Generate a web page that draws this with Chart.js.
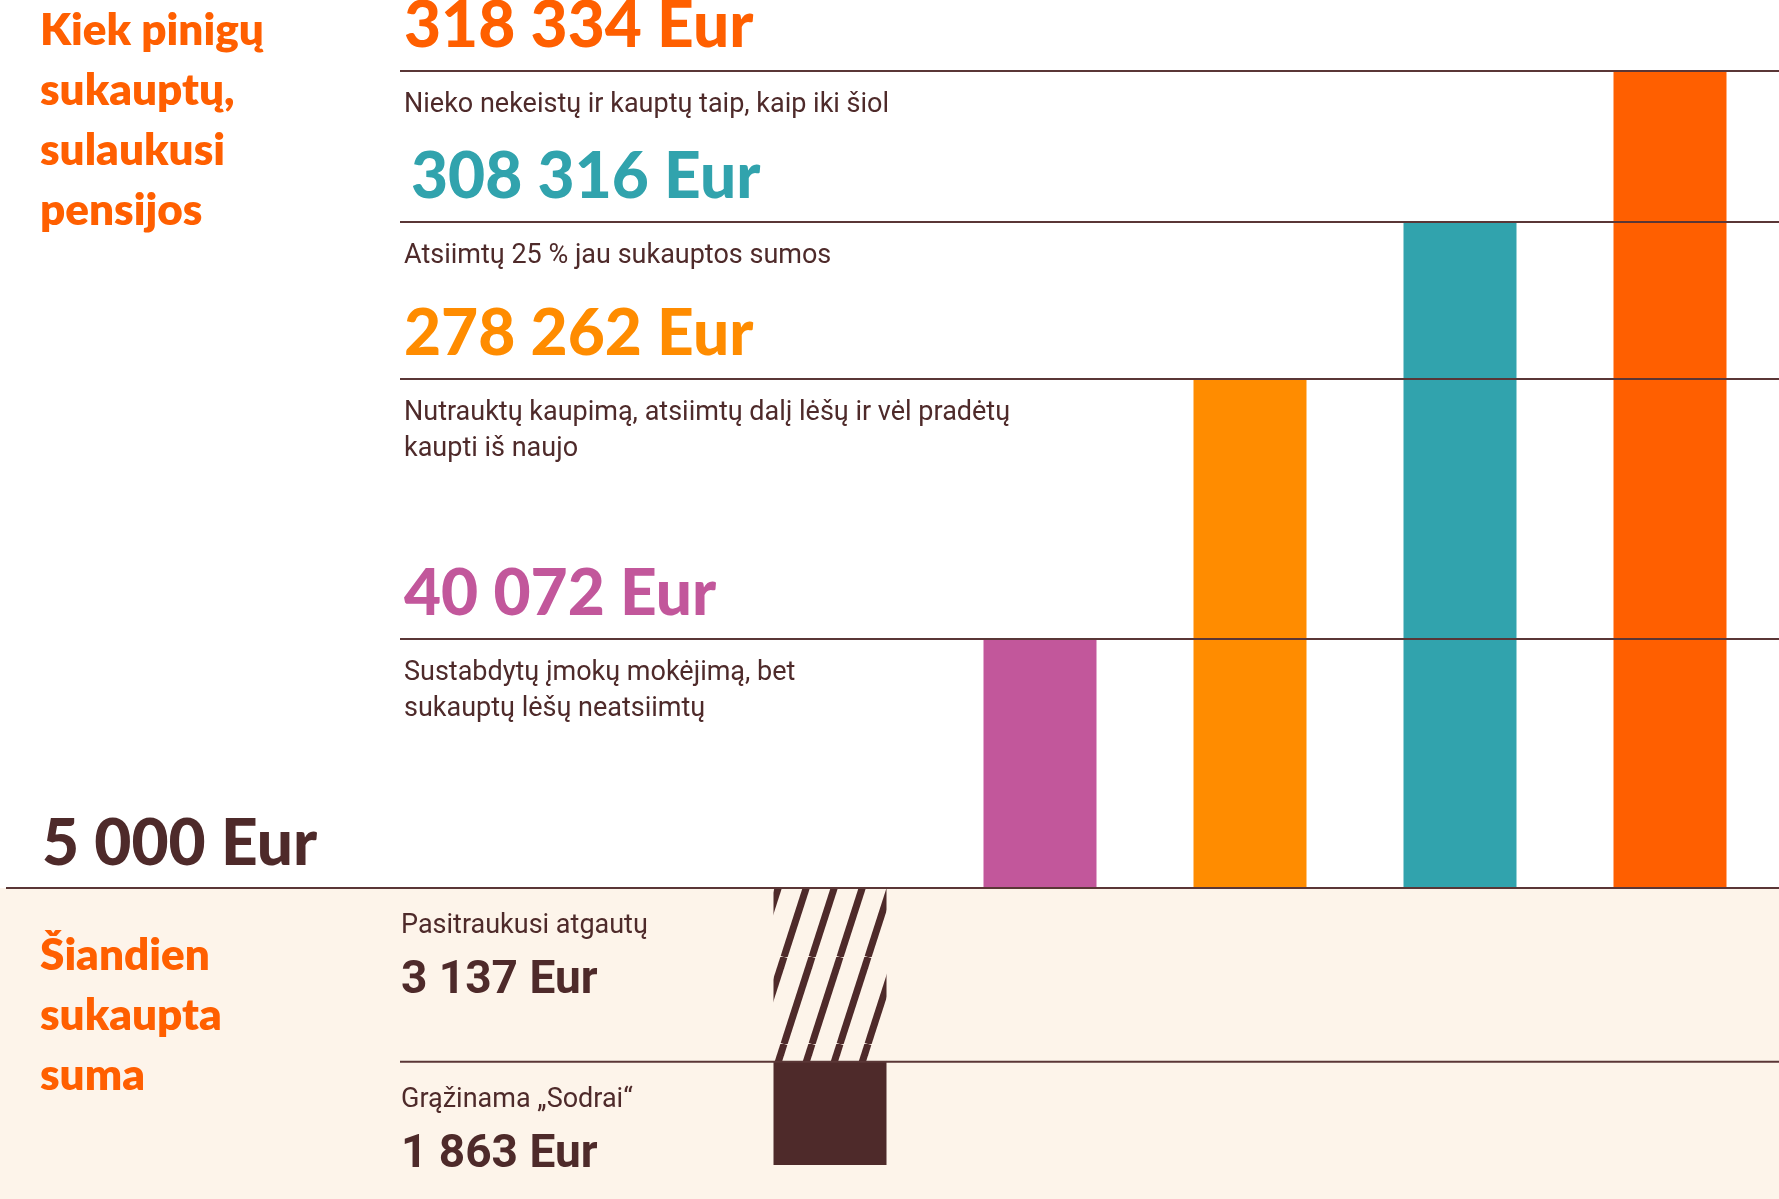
<!DOCTYPE html>
<html>
<head>
<meta charset="utf-8">
<script src="https://cdn.jsdelivr.net/npm/chart.js@4.4.1/dist/chart.umd.min.js"></script>
<style>
	html, body { margin: 0; padding: 0; background: #fff; }
	#wrap { width: 1779px; height: 1199px; }
</style>
</head>
<body>
<div id="wrap"><canvas id="c" width="1779" height="1199"></canvas></div>
<script>
(function () {
	'use strict';

	// --- Data ---
	const categories = ['Šiandien', 'Sustabdytų', 'Nutrauktų', 'Atsiimtų 25 %', 'Nieko nekeistų'];
	// bars above the line are illustrative heights
	const futureLevels = [null, 249, 509, 666, 817];
	const futureAmounts = ['', '40 072 Eur', '278 262 Eur', '308 316 Eur', '318 334 Eur'];
	const futureCaptions = [
		[],
		['Sustabdytų įmokų mokėjimą, bet', 'sukauptų lėšų neatsiimtų'],
		['Nutrauktų kaupimą, atsiimtų dalį lėšų ir vėl pradėtų', 'kaupti iš naujo'],
		['Atsiimtų 25 % jau sukauptos sumos'],
		['Nieko nekeistų ir kauptų taip, kaip iki šiol'],
	];
	const todayTotal = 5000;
	const todayParts = [3137, 1863]; // atgautų, grąžinama Sodrai
	const todayLabels = ['Pasitraukusi atgautų', 'Grąžinama „Sodrai“'];
	const todayScale = 277 / todayTotal;

	const C = {
		red: '#ff5f00', teal: '#31a3ad', amber: '#ff8c00', pink: '#c2579b',
		brown: '#4e2a2a', cream: '#fdf4ea', line: '#5a3636'
	};
	const barColors = [null, C.pink, C.amber, C.teal, C.red];

	function stripePattern() {
		const t = document.createElement('canvas');
		t.width = 28; t.height = 87;
		const g = t.getContext('2d');
		g.fillStyle = C.cream; g.fillRect(0, 0, 28, 87);
		g.strokeStyle = C.brown; g.lineWidth = 7;
		[-28, 0, 28].forEach(o => {
			g.beginPath(); g.moveTo(o, 87); g.lineTo(o + 28, 0); g.stroke();
		});
		return g.createPattern(t, 'repeat');
	}

	const BIG = "900 64px Lato, sans-serif";
	const CAP = "400 27px Roboto, sans-serif";

	const overlay = {
		id: 'overlay',
		beforeDraw(chart) {
			const ctx = chart.ctx;
			const y0 = chart.scales.y.getPixelForValue(0);
			ctx.save();
			ctx.fillStyle = C.cream;
			ctx.fillRect(0, y0, chart.width, chart.height - y0);
			ctx.restore();
		},
		afterDatasetsDraw(chart) {
			const ctx = chart.ctx;
			const y = chart.scales.y;
			const W = chart.width;
			const y0 = y.getPixelForValue(0);
			ctx.save();
			ctx.strokeStyle = C.line; ctx.lineWidth = 2;
			const hline = (x1, yy) => { ctx.beginPath(); ctx.moveTo(x1, yy); ctx.lineTo(W, yy); ctx.stroke(); };
			hline(6, y0);
			const yMid = y.getPixelForValue(-todayParts[0] * todayScale);
			hline(400, yMid);

			futureLevels.forEach((lv, i) => {
				if (lv == null) return;
				const py = y.getPixelForValue(lv);
				hline(400, py);
				ctx.fillStyle = barColors[i];
				ctx.font = BIG;
				ctx.fillText(futureAmounts[i], i === 3 ? 411 : 404, py - 24);
				ctx.fillStyle = C.brown;
				ctx.font = CAP;
				futureCaptions[i].forEach((t, k) => ctx.fillText(t, 404, py + 41 + k * 36));
			});

			ctx.fillStyle = C.red;
			ctx.font = "800 44px Lato, sans-serif";
			['Kiek pinigų', 'sukauptų,', 'sulaukusi', 'pensijos'].forEach((t, k) => ctx.fillText(t, 40, 45 + k * 60));
			['Šiandien', 'sukaupta', 'suma'].forEach((t, k) => ctx.fillText(t, 40, y0 + 82 + k * 60));

			ctx.fillStyle = C.brown;
			ctx.font = BIG;
			ctx.fillText(todayTotal.toLocaleString('lt-LT').replace(/\s/g, ' ') + ' Eur', 42, y0 - 23);

			const fmt = v => String(v).replace(/\B(?=(\d{3})+(?!\d))/g, ' ') + ' Eur';
			const yBot = y.getPixelForValue(-todayTotal * todayScale);
			[[y0, todayParts[0]], [yMid, todayParts[1]]].forEach(([top, v], k) => {
				ctx.font = CAP;
				ctx.fillText(todayLabels[k], 401, top + 45);
				ctx.font = "700 46px Roboto, sans-serif";
				ctx.fillText(fmt(v), 401, top + 105);
			});
			ctx.restore();
		}
	};

	new Chart(document.getElementById('c'), {
		type: 'bar',
		data: {
			labels: categories,
			datasets: [
				{ data: futureLevels, backgroundColor: barColors, stack: 's' },
				{ data: [-todayParts[0] * todayScale, null, null, null, null], backgroundColor: stripePattern(), stack: 's' },
				{ data: [-todayParts[1] * todayScale, null, null, null, null], backgroundColor: C.brown, stack: 's' },
			]
		},
		options: {
			responsive: false,
			animation: false,
			devicePixelRatio: 1,
			layout: { padding: { left: 725, right: 4, top: 0, bottom: 0 } },
			categoryPercentage: 1,
			barPercentage: 113 / 210,
			plugins: { legend: { display: false }, tooltip: { enabled: false } },
			scales: {
				x: { display: false, stacked: true },
				y: { display: false, stacked: true, min: -311, max: 888 }
			}
		},
		plugins: [overlay]
	});
})();
</script>
</body>
</html>
